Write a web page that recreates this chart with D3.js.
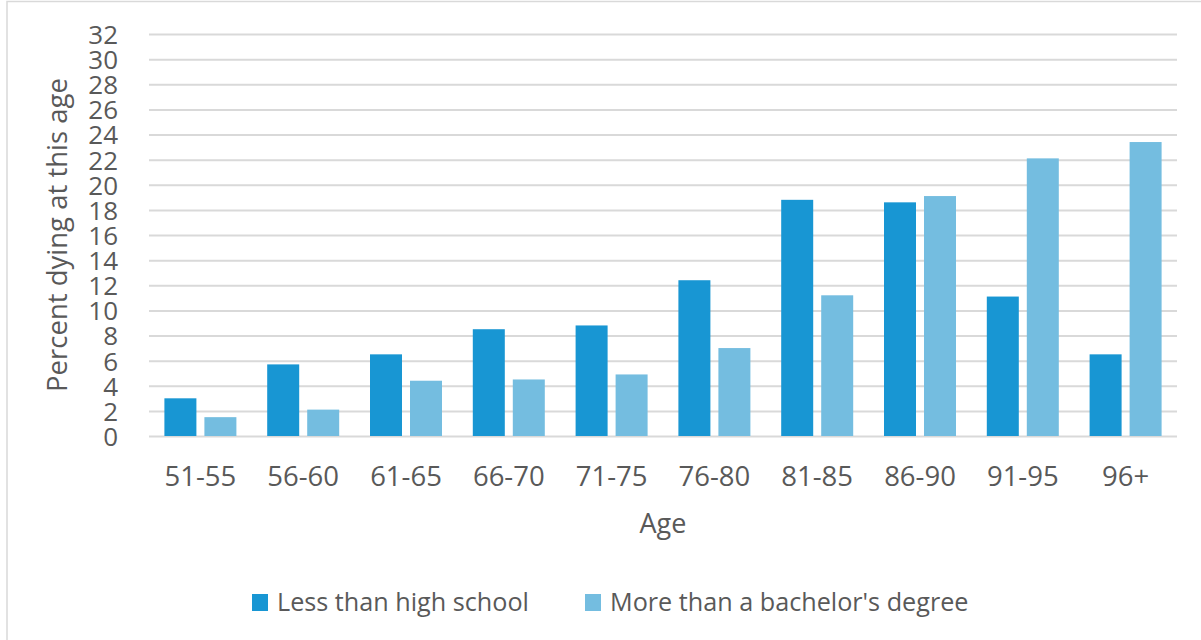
<!DOCTYPE html>
<html>
<head>
<meta charset="utf-8">
<script src="https://cdn.jsdelivr.net/npm/d3@7/dist/d3.min.js"></script>
<style>
  html, body { margin: 0; padding: 0; background: #ffffff; }
  svg { display: block; }
  text { font-family: "Open Sans", "Noto Sans", sans-serif; fill: #595959; }
</style>
</head>
<body>
<svg id="chart" width="1201" height="640"></svg>
<script>
// Age groups at death
const categories = ["51-55", "56-60", "61-65", "66-70", "71-75", "76-80", "81-85", "86-90", "91-95", "96+"];
// Percent dying in each age group, by education level
const lessThanHighSchool = [3.0, 5.7, 6.5, 8.5, 8.8, 12.4, 18.8, 18.6, 11.1, 6.5];
const moreThanBachelors = [1.5, 2.1, 4.4, 4.5, 4.9, 7.0, 11.2, 19.1, 22.1, 23.4];
const seriesNames = ["Less than high school", "More than a bachelor's degree"];
const yTicks = [0, 2, 4, 6, 8, 10, 12, 14, 16, 18, 20, 22, 24, 26, 28, 30, 32];

const colors = ["#1896d3", "#74bde0"];
const series = [lessThanHighSchool, moreThanBachelors];

const svg = d3.select("#chart");
const plot = { left: 149, right: 1177, top: 34, bottom: 436 };

// Outer chart frame
svg.append("rect")
  .attr("x", 7).attr("y", 1.5)
  .attr("width", 1300).attr("height", 800)
  .attr("fill", "none")
  .attr("stroke", "#d9d9d9")
  .attr("stroke-width", 1.5);

const y = d3.scaleLinear().domain([0, 32]).range([plot.bottom, plot.top]);
const x = d3.scaleBand().domain(categories).range([plot.left, plot.right]);
const barW = 32, barGap = 8;

// Horizontal gridlines with tick labels
const yAxis = d3.axisLeft(y).tickValues(yTicks).tickSize(-(plot.right - plot.left)).tickPadding(31);
const gy = svg.append("g")
  .attr("transform", `translate(${plot.left},0)`)
  .call(yAxis);
gy.select(".domain").remove();
gy.selectAll(".tick line").attr("stroke", "#d9d9d9").attr("stroke-width", 2);
gy.selectAll(".tick text")
  .attr("font-size", 26)
  .attr("fill", "#595959")
  .attr("dy", "0.36em");

// Bars: two series side by side within each age band
categories.forEach((cat, i) => {
  const cx = x(cat) + x.bandwidth() / 2;
  series.forEach((vals, s) => {
    const x0 = s === 0 ? cx - barGap / 2 - barW : cx + barGap / 2;
    svg.append("rect")
      .attr("x", x0)
      .attr("y", y(vals[i]))
      .attr("width", barW)
      .attr("height", y(0) - y(vals[i]))
      .attr("fill", colors[s]);
  });
});

// Category labels
const xAxis = d3.axisBottom(x).tickSize(0).tickPadding(30);
const gx = svg.append("g")
  .attr("transform", `translate(0,${plot.bottom})`)
  .call(xAxis);
gx.select(".domain").remove();
gx.selectAll(".tick text")
  .attr("font-size", 27.5)
  .attr("fill", "#595959")
  .attr("dy", "0.72em");

// Axis titles
svg.append("text")
  .attr("x", (plot.left + plot.right) / 2)
  .attr("y", 533)
  .attr("text-anchor", "middle")
  .attr("font-size", 27)
  .text("Age");

svg.append("text")
  .attr("transform", `translate(67,${(plot.top + plot.bottom) / 2}) rotate(-90)`)
  .attr("text-anchor", "middle")
  .attr("font-size", 27.5)
  .text("Percent dying at this age");

// Legend
const legendItems = [
  { name: seriesNames[0], color: colors[0], x: 252 },
  { name: seriesNames[1], color: colors[1], x: 585 }
];
legendItems.forEach(d => {
  svg.append("rect")
    .attr("x", d.x).attr("y", 594)
    .attr("width", 16).attr("height", 17)
    .attr("fill", d.color);
  svg.append("text")
    .attr("x", d.x + 25)
    .attr("y", 611)
    .attr("font-size", 25.2)
    .text(d.name);
});
</script>
</body>
</html>
